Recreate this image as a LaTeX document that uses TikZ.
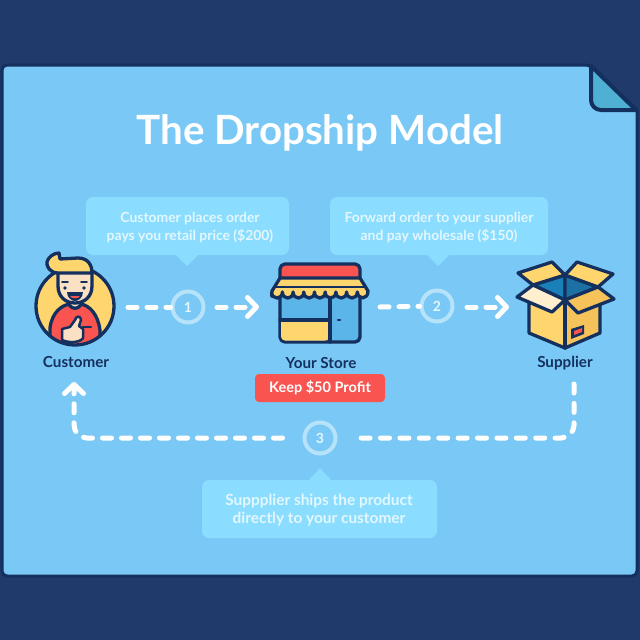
\documentclass[tikz,border=0pt]{standalone}
\usepackage{fontspec}
\setmainfont{Lato}
\usetikzlibrary{arrows.meta}
\definecolor{navybg}{HTML}{203A6B}
\definecolor{inkline}{HTML}{14305F}
\definecolor{pageblue}{HTML}{7AC8F5}
\definecolor{foldteal}{HTML}{4FB0D3}
\definecolor{bubble}{HTML}{8ADDFE}
\definecolor{bubbletext}{HTML}{E3F7FF}
\definecolor{ringblue}{HTML}{B7E3FA}
\definecolor{badgered}{HTML}{F9544F}
\definecolor{sunny}{HTML}{FFD56E}
\definecolor{sunnydark}{HTML}{F5C35A}
\definecolor{cream}{HTML}{FFEFCF}
\definecolor{skin}{HTML}{FBE1C4}
\definecolor{glassblue}{HTML}{5BB5E8}
\definecolor{boxinleft}{HTML}{1A80B8}
\definecolor{boxinright}{HTML}{1C70A4}
\tikzset{
  ink/.style={draw=inkline,line width=3.3pt,line join=round,line cap=round},
  dashline/.style={draw=white,line width=5pt,line cap=round,dash pattern=on 9pt off 10pt},
  chevron/.style={-{Straight Barb[round,length=9pt,width=19pt]}},
  callout/.style={fill=bubble,rounded corners=7pt},
  callouttext/.style={text=bubbletext,font=\bfseries\fontsize{13.9}{18}\selectfont,align=center},
  steplabel/.style={circle,draw=ringblue,line width=4pt,minimum size=31pt,inner sep=0pt,text=bubbletext,font=\bfseries\fontsize{14}{14}\selectfont},
  namelabel/.style={text=inkline,font=\bfseries\fontsize{15.2}{16}\selectfont}
}
\begin{document}
\begin{tikzpicture}[x=1pt,y=-1pt]
  \useasboundingbox (0,0) rectangle (640,640);
  \fill[navybg] (0,0) rectangle (640,640);
  % page and folded corner
  \draw[draw=inkline,line width=3pt,fill=pageblue,rounded corners=5pt] (2,65) -- (590,65) [sharp corners] -- (637,110) [rounded corners=5pt] -- (637,576) -- (2,576) -- cycle;
  \draw[draw=inkline,line width=4pt,fill=foldteal,line join=round] (591,66) [rounded corners=10pt] -- (591,110) [sharp corners] -- (636,110) -- cycle;
  \node (title) at (320,133) [text=white,font=\bfseries\fontsize{40.3}{42}\selectfont] {The Dropship Model};
  % callouts
  \fill[callout] (86,197) rectangle (289,255);
  \fill[bubble] (175,254) -- (187,266) -- (199,254) -- cycle;
  \node (say1) at (190,227) [callouttext] {Customer places order\\pays you retail price (\$200)};
  \fill[callout] (330,197) rectangle (548,255);
  \fill[bubble] (426,254) -- (438,266) -- (450,254) -- cycle;
  \node (say2) at (439,227) [callouttext] {Forward order to your supplier\\and pay wholesale (\$150)};
  \fill[callout] (202,480) rectangle (437,538);
  \fill[bubble] (308,481) -- (320,468) -- (332,481) -- cycle;
  \node (say3) at (319,510) [callouttext,font=\bfseries\fontsize{15.4}{18}\selectfont] {Suppplier ships the product\\directly to your customer};
  % customer
  \begin{scope}
    \fill[sunny] (75,306) circle (39);
    \begin{scope}
      \clip (75,306) circle (39);
      \filldraw[ink,fill=badgered] (50,350) -- (50,328) .. controls (52,312) and (62,305) .. (70,304) -- (80,304) .. controls (90,305) and (98,315) .. (100,330) -- (100,350) -- cycle;
    \end{scope}
    \draw[ink] (75,306) circle (39);
    \filldraw[ink,fill=skin] (67,298) -- (83,298) -- (80,306) .. controls (77,309) and (73,309) .. (70,306) -- cycle;
    \filldraw[ink,fill=skin] (58,272) -- (92,272) -- (92,286) .. controls (92,297) and (84,303) .. (75,303) .. controls (66,303) and (58,297) .. (58,286) -- cycle;
    \filldraw[ink,fill=sunny] (58,273) .. controls (50,273) and (46,266) .. (47,262) .. controls (48,257) and (54,253) .. (59,253) -- (60,259) -- (78,258) .. controls (88,258) and (92,265) .. (92,273) -- cycle;
    \fill[inkline] (65,288) circle (1.8) (84,288) circle (1.8);
    \draw[inkline,line width=1.8pt,line cap=round] (62,282) -- (68,282) (81,282) -- (87,282);
    \fill[inkline] (67,292) -- (83,292) .. controls (83,298) and (78,301) .. (75,301) .. controls (72,301) and (67,298) .. (67,292) -- cycle;
    \fill[badgered] (70,296) -- (80,296) .. controls (79,299) and (71,299) .. (70,296) -- cycle;
    \draw[ink,line width=2.5pt] (83,327) -- (91,327);
    \filldraw[ink,line width=2.5pt,fill=skin] (62,329) -- (70,327) -- (75,320) .. controls (76,315) and (81,316) .. (81,320) -- (79,326) -- (83,329) -- (83,338) .. controls (80,343) and (68,343) .. (62,340) -- cycle;
    \node (customer) at (76,362) [namelabel] {Customer};
  \end{scope}
  % store
  \begin{scope}
    \filldraw[ink,fill=glassblue,rounded corners=5pt] (280,292) rectangle (360,342);
    \fill[sunny,rounded corners=4pt] (281,320) -- (281,340.5) -- (329,340.5) [sharp corners] -- (329,320) -- cycle;
    \draw[ink] (280,320) -- (330,320) (330,296) -- (330,342);
    \draw[ink,line width=2.5pt] (338,320) -- (340,320);
    \filldraw[ink,fill=badgered,rounded corners=5pt] (280,282) -- (280,264) -- (360,264) -- (360,282) -- cycle;
    \filldraw[ink,fill=sunny] (280,278) -- (360,278) -- (368,291) .. controls (368,300) and (358,300) .. (357.3,292)
      \foreach \bump in {1,...,8}{ .. controls ({357.3-(\bump-1)*10.7},300) and ({357.3-\bump*10.7},300) .. ({357.3-\bump*10.7},292) }
      .. controls (272,300) and (272,296) .. (272,291) -- cycle;
    \draw[ink,line width=2.5pt] (275,287) -- (365,287);
    \node (store) at (321,363) [namelabel] {Your Store};
    \node (profit) at (320,388) [fill=badgered,rounded corners=4pt,minimum width=130pt,minimum height=28pt,inner sep=0pt,text=white,font=\bfseries\fontsize{14.5}{14}\selectfont] {Keep \$50 Profit};
  \end{scope}
  % supplier box
  \begin{scope}
    \coordinate (TC) at (565,275); \coordinate (ML) at (533,285); \coordinate (MR) at (598,287);
    \coordinate (FC) at (565,300); \coordinate (BL) at (529,333); \coordinate (BC) at (565,348);
    \coordinate (BR) at (600,333); \coordinate (FL) at (529,303); \coordinate (FR) at (600,305);
    \filldraw[ink,fill=boxinleft] (TC) -- (ML) -- (FC) -- cycle;
    \filldraw[ink,fill=boxinright] (TC) -- (MR) -- (FC) -- cycle;
    \filldraw[ink,fill=sunny] (FL) -- (FC) -- (BC) -- (BL) -- cycle;
    \filldraw[ink,fill=sunnydark] (FR) -- (FC) -- (BC) -- (BR) -- cycle;
    \filldraw[ink,fill=sunny] (518,273) -- (552,262) -- (TC) -- (ML) -- cycle;
    \filldraw[ink,fill=sunny] (TC) -- (577,262) -- (613,274) -- (MR) -- cycle;
    \filldraw[ink,fill=cream] (ML) -- (FC) -- (552,312) -- (517,297) -- cycle;
    \filldraw[ink,fill=sunnydark] (MR) -- (614,299) -- (578,313) -- (FC) -- cycle;
    \draw[ink] (FC) -- (BC);
    \fill[inkline] (571,329) -- (584,325) -- (584,334) -- (571,339) -- cycle;
    \fill[badgered] (574,331) -- (582,328) -- (582,332) -- (574,335) -- cycle;
    \node (supplier) at (565,363) [namelabel] {Supplier};
  \end{scope}
  % steps
  \node (step1) at (188,307) [steplabel] {1};
  \node (step2) at (437,306) [steplabel] {2};
  \node (step3) at (320,438) [steplabel] {3};
  \coordinate (out1) at (128,307); \coordinate (in1) at (217,307); \coordinate (tip1) at (259,307);
  \coordinate (out2) at (380,307); \coordinate (in2) at (467,307); \coordinate (tip2) at (509,307);
  \coordinate (out3) at (574,384); \coordinate (bend3) at (574,438); \coordinate (bend4) at (74,438); \coordinate (tip3) at (74,382);
  \draw[dashline] (out1) -- (step1);
  \draw[dashline,chevron] (in1) -- (tip1);
  \draw[dashline] (out2) -- (step2);
  \draw[dashline,chevron] (in2) -- (tip2);
  \draw[dashline,dash pattern=on 9pt off 10.4pt,rounded corners=13pt,shorten >=20pt] (out3) -- (bend3) -- (step3);
  \draw[dashline,chevron,rounded corners=13pt,shorten <=20pt] (step3) -- (bend4) -- (tip3);
\end{tikzpicture}
\end{document}
